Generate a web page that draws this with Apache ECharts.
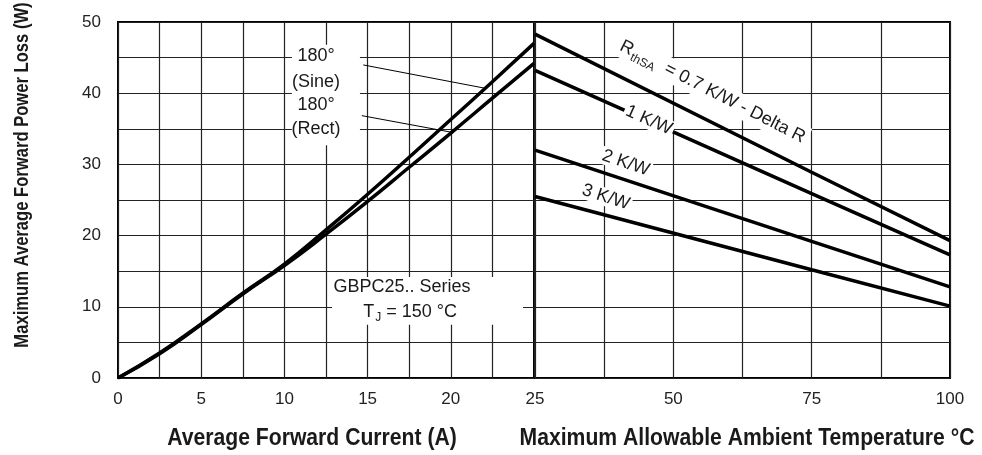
<!DOCTYPE html>
<html><head><meta charset="utf-8">
<script src="https://cdn.jsdelivr.net/npm/echarts@6/dist/echarts.min.js"></script>
<style>html,body{margin:0;padding:0;background:#fff}#c{width:982px;height:455px}</style>
</head><body><div id="c"></div>
<script>
const FONT = "'Liberation Sans', Arial, Helvetica, sans-serif";

// Left panel: average forward current (A) vs power loss (W)
const currentA = [0, 2.5, 5, 7.5, 10, 12.5, 15, 17.5, 20, 22.5, 25];
const sineLoss = [0, 3.5, 7.6, 11.9, 16.0, 20.8, 25.8, 31.0, 36.3, 41.6, 47.0];
const rectLoss = [0, 3.4, 7.5, 11.8, 15.8, 20.2, 24.8, 29.6, 34.4, 39.3, 44.2];

// Right panel: ambient temperature (°C) vs power loss (W)
const ambientC = [25, 75, 100];
const rth07Loss = [48.3, 28.9, 19.3];
const rth1Loss = [43.2, 25.9, 17.3];
const rth2Loss = [32.0, 19.2, 12.8];
const rth3Loss = [25.5, 15.2, 10.1];

// tick labels
const leftTicks = [0, 5, 10, 15, 20];
const rightTicks = [25, 50, 75, 100];
const yTicks = [0, 10, 20, 30, 40, 50];

const pairs = (xs, ys) => xs.map((x, i) => [x, ys[i]]);

const chart = echarts.init(document.getElementById('c'));

const gridLine = { show: true, lineStyle: { color: '#222', width: 1.2 } };
const lblBase = { fontSize: 17, color: '#222', fontFamily: FONT, showMinLabel: true, showMaxLabel: true };
const lineSeries = (name, xi, data, smooth) => ({
  name, type: 'line', xAxisIndex: xi, yAxisIndex: xi, data,
  showSymbol: false, smooth: smooth, z: 5,
  lineStyle: { color: '#000', width: 3.5 }
});

chart.setOption({
  animation: false,
  backgroundColor: '#fff',
  grid: [
    { left: 118, top: 22, width: 416, height: 356, show: true, borderColor: '#000', borderWidth: 2 },
    { left: 535, top: 22, width: 415, height: 356, show: true, borderColor: '#000', borderWidth: 2 }
  ],
  xAxis: [
    { type: 'value', gridIndex: 0, min: 0, max: 25, interval: 2.5,
      axisLine: { show: false }, axisTick: { show: false }, splitLine: gridLine,
      axisLabel: Object.assign({}, lblBase, { margin: 13, formatter: v => leftTicks.includes(v) ? String(v) : '' }) },
    { type: 'value', gridIndex: 1, min: 25, max: 100, interval: 12.5,
      axisLine: { show: false }, axisTick: { show: false }, splitLine: gridLine,
      axisLabel: Object.assign({}, lblBase, { margin: 13, formatter: v => rightTicks.includes(v) ? String(v) : '' }) }
  ],
  yAxis: [
    { type: 'value', gridIndex: 0, min: 0, max: 50, interval: 5,
      axisLine: { show: false }, axisTick: { show: false }, splitLine: gridLine,
      axisLabel: Object.assign({}, lblBase, { margin: 17, padding: [7, 0, 0, 0], formatter: v => yTicks.includes(v) ? String(v) : '' }) },
    { type: 'value', gridIndex: 1, min: 0, max: 50, interval: 5,
      axisLine: { show: false }, axisTick: { show: false }, splitLine: gridLine,
      axisLabel: { show: false } }
  ],
  series: [
    lineSeries('180° (Sine)', 0, pairs(currentA, sineLoss), 0.5),
    lineSeries('180° (Rect)', 0, pairs(currentA, rectLoss), 0.5),
    lineSeries('0.7 K/W', 1, pairs(ambientC, rth07Loss), false),
    lineSeries('1 K/W', 1, pairs(ambientC, rth1Loss), false),
    lineSeries('2 K/W', 1, pairs(ambientC, rth2Loss), false),
    lineSeries('3 K/W', 1, pairs(ambientC, rth3Loss), false)
  ]
});

// ---- annotations (anchored in data coordinates) ----
const g0 = (x, y) => chart.convertToPixel({ gridIndex: 0 }, [x, y]);
const g1 = (x, y) => chart.convertToPixel({ gridIndex: 1 }, [x, y]);
const deg = d => d * Math.PI / 180;
const txt = (p, text, size, extra) => Object.assign({
  type: 'text', x: p[0], y: p[1], z: 20,
  style: Object.assign({ text, font: size + 'px ' + FONT, fill: '#1a1a1a', align: 'center', verticalAlign: 'middle' }, extra || {})
});
const boxRect = (a, b) => ({
  type: 'rect', z: 15,
  shape: { x: a[0], y: a[1], width: b[0] - a[0], height: b[1] - a[1] },
  style: { fill: '#fff' }
});
const leader = (a, b) => ({
  type: 'line', z: 16,
  shape: { x1: a[0], y1: a[1], x2: b[0], y2: b[1] },
  style: { stroke: '#000', lineWidth: 1 }
});

const graphics = [];
// 180° labels
graphics.push(boxRect(g0(10.45, 46.8), g0(14.54, 32.7)));
graphics.push(txt(g0(11.9, 45.2), '180°', 18));
graphics.push(txt(g0(11.9, 41.6), '(Sine)', 18));
graphics.push(txt(g0(11.9, 38.3), '180°', 18));
graphics.push(txt(g0(11.9, 34.9), '(Rect)', 18));
graphics.push(leader(g0(14.74, 43.97), g0(22.05, 40.7)));
graphics.push(leader(g0(14.65, 36.85), g0(20.15, 34.47)));
// Series box
graphics.push(boxRect(g0(12.86, 14.2), g0(24.34, 7.47)));
graphics.push(txt(g0(17.07, 12.8), 'GBPC25.. Series', 18));
{
  const p = g0(17.55, 9.3);
  graphics.push({
    type: 'text', x: p[0], y: p[1], z: 20,
    style: {
      text: '{a|T}{s|J}{a| = 150 °C}', align: 'center', verticalAlign: 'middle',
      rich: {
        a: { fontSize: 18, fontFamily: FONT, fill: '#1a1a1a', color: '#1a1a1a' },
        s: { fontSize: 12, fontFamily: FONT, fill: '#1a1a1a', color: '#1a1a1a', padding: [12, 0, 0, 1] }
      }
    }
  });
}
// Right-panel labels
{
  const p = g1(57.1, 40.2);
  graphics.push({
    type: 'text', x: p[0], y: p[1], rotation: -deg(27), z: 20,
    style: {
      text: '{a|R}{s|thSA}{a|  = 0.7 K/W - Delta R}', align: 'center', verticalAlign: 'middle',
      backgroundColor: '#fff', padding: [0, 3],
      rich: {
        a: { fontSize: 18, fontFamily: FONT, fill: '#1a1a1a', color: '#1a1a1a' },
        s: { fontSize: 12, fontFamily: FONT, fill: '#1a1a1a', color: '#1a1a1a', padding: [12, 0, 0, 1] }
      }
    }
  });
}
graphics.push(Object.assign(txt(g1(45.6, 36.2), '1 K/W', 18, { backgroundColor: '#fff', padding: [0, 2] }), { rotation: -deg(24) }));
graphics.push(Object.assign(txt(g1(41.4, 30.2), '2 K/W', 18, { backgroundColor: '#fff', padding: [0, 2] }), { rotation: -deg(19) }));
graphics.push(Object.assign(txt(g1(37.8, 25.4), '3 K/W', 18, { backgroundColor: '#fff', padding: [0, 2] }), { rotation: -deg(18) }));

// Axis titles
graphics.push({
  type: 'text', x: 22, y: 175, rotation: deg(90), scaleX: 0.83, z: 20,
  style: { text: 'Maximum Average Forward Power Loss (W)', font: 'bold 20px ' + FONT, fill: '#1a1a1a', align: 'center', verticalAlign: 'middle' }
});
graphics.push({
  type: 'text', x: 312, y: 439, scaleX: 0.92, z: 20,
  style: { text: 'Average Forward Current (A)', font: 'bold 23px ' + FONT, fill: '#1a1a1a', align: 'center', verticalAlign: 'middle' }
});
graphics.push({
  type: 'text', x: 747, y: 439, scaleX: 0.92, z: 20,
  style: { text: 'Maximum Allowable Ambient Temperature °C', font: 'bold 23px ' + FONT, fill: '#1a1a1a', align: 'center', verticalAlign: 'middle' }
});

chart.setOption({ graphic: graphics });
</script>
</body></html>
